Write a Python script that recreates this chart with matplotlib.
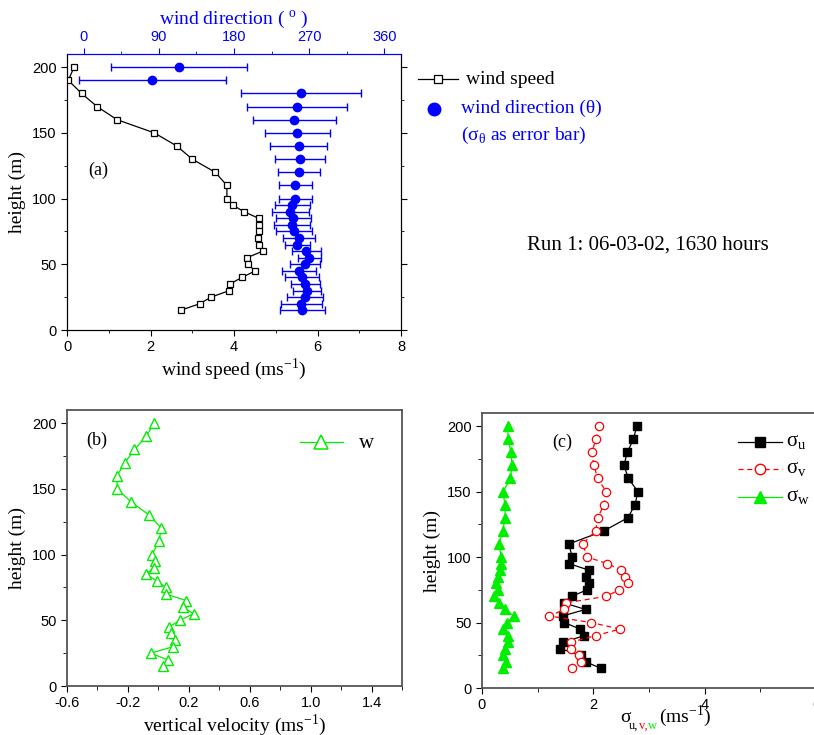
import matplotlib
matplotlib.use("Agg")
import matplotlib.pyplot as plt
from matplotlib.ticker import MultipleLocator
from matplotlib.lines import Line2D

# ---------------- data ----------------
heights = [200, 190, 180, 170, 160, 150, 140, 130, 120, 110, 100, 95, 90, 85,
           80, 75, 70, 65, 60, 55, 50, 45, 40, 35, 30, 25, 20, 15]

wind_speed = [0.17, 0.03, 0.35, 0.72, 1.20, 2.09, 2.63, 3.00, 3.55, 3.83, 3.83, 3.97,
              4.24, 4.59, 4.61, 4.59, 4.57, 4.60, 4.69, 4.31, 4.33, 4.51, 4.19, 3.90,
              3.89, 3.45, 3.18, 2.72]

wind_dir = [114, 82, 260, 255.6, 252.4, 255.6, 257.5, 258.7, 257.5, 253.6, 253.6, 249.6,
            247.6, 250.8, 249.6, 251.6, 257.5, 255.6, 266.7, 270.3, 265.5, 257.5, 261.6,
            265.5, 267.5, 265.5, 260.8, 261.6]

sigma_theta = [81, 88, 72, 60, 49.6, 39, 34, 30, 25, 20, 20, 21, 22.5, 21, 22, 21.5,
               19.4, 15, 17, 14, 18, 20.5, 20.5, 17, 17, 21.5, 24, 27]

w_vel = [-0.03, -0.078, -0.157, -0.219, -0.271, -0.271, -0.179, -0.059, 0.02, 0.003,
         -0.041, -0.021, -0.03, -0.081, -0.010, 0.049, 0.049, 0.182, 0.161, 0.231,
         0.141, 0.071, 0.086, 0.110, 0.099, -0.05, 0.06, 0.031]

sigma_u = [2.78, 2.72, 2.61, 2.55, 2.63, 2.80, 2.75, 2.62, 2.19, 1.56, 1.62, 1.56, 1.92,
           1.87, 1.93, 1.89, 1.61, 1.47, 1.86, 1.45, 1.48, 1.76, 1.84, 1.46, 1.41, 1.78,
           1.86, 2.14]

sigma_v = [2.10, 2.05, 1.97, 2.01, 2.08, 2.23, 2.19, 2.08, 2.04, 1.81, 1.89, 2.25, 2.50,
           2.57, 2.62, 2.47, 2.23, 1.51, 1.48, 1.21, 1.96, 2.48, 2.04, 1.60, 1.59, 1.74,
           1.78, 1.62]

sigma_w = [0.46, 0.47, 0.52, 0.54, 0.51, 0.38, 0.41, 0.42, 0.37, 0.31, 0.34, 0.34, 0.32,
           0.28, 0.25, 0.29, 0.22, 0.31, 0.41, 0.57, 0.45, 0.37, 0.46, 0.47, 0.42, 0.38,
           0.43, 0.37]

SERIF = "Liberation Serif"
SANS = "Liberation Sans"
BLUE = "#0000ff"
GREEN = "#00ee00"
GRAY = "#555555"
W, H = 814.0, 735.0

fig = plt.figure(figsize=(8.14, 7.35), dpi=100)


def px_axes(left, top, right, bottom):
    return fig.add_axes([left / W, 1 - bottom / H, (right - left) / W, (bottom - top) / H])


def fx(x):
    return x / W


def fy(y):
    return 1 - y / H


def style_ticks(ax):
    for lab in ax.get_xticklabels() + ax.get_yticklabels():
        lab.set_fontfamily(SANS)
        lab.set_fontsize(10.5)


# ---------------- panel (a) ----------------
axa = px_axes(67, 54, 401, 330)
axa.plot(wind_speed, heights, color="black", lw=0.9, marker="s", ms=5,
         mfc="white", mec="black", mew=0.9, zorder=3)
axa.set_xlim(0, 8)
axa.set_ylim(0, 210)
axa.xaxis.set_major_locator(MultipleLocator(2))
axa.xaxis.set_minor_locator(MultipleLocator(1))
axa.yaxis.set_major_locator(MultipleLocator(50))
axa.yaxis.set_minor_locator(MultipleLocator(25))
axa.tick_params(axis="both", which="both", direction="out", labelsize=10.5)
axa.tick_params(which="major", length=4)
axa.tick_params(which="minor", length=2.5)
axa.tick_params(axis="y", which="both", right=True)
axa.set_xlabel("wind speed (ms$^{\\mathregular{-1}}$)", family=SERIF, fontsize=14, labelpad=1)
axa.set_ylabel("height (m)", family=SERIF, fontsize=14, labelpad=4)
axa.text(0.063, 0.58, "(a)", transform=axa.transAxes, family=SERIF, fontsize=13,
         va="center")
axa.spines["top"].set_color(BLUE)

axt = axa.twiny()
axt.errorbar(wind_dir, heights, xerr=sigma_theta, fmt="o", color=BLUE, ms=6,
             ecolor=BLUE, elinewidth=1.0, capsize=3, capthick=1.0, zorder=3)
axt.set_xlim(-20, 380)
axt.set_ylim(0, 210)
axt.xaxis.set_major_locator(MultipleLocator(90))
axt.xaxis.set_minor_locator(MultipleLocator(45))
axt.tick_params(axis="x", which="both", direction="out", colors=BLUE, labelsize=10.5)
axt.tick_params(which="major", length=4)
axt.tick_params(which="minor", length=2.5)
axt.spines["top"].set_color(BLUE)
axt.set_xlabel("wind direction ( $^{\\mathregular{o}}$ )", family=SERIF, fontsize=14,
               color=BLUE, labelpad=4)
style_ticks(axa)
for lab in axt.get_xticklabels():
    lab.set_fontfamily(SANS)

# legend for (a), drawn in figure space
fig.add_artist(Line2D([fx(418), fx(458)], [fy(79), fy(79)], color="black", lw=0.9))
fig.add_artist(Line2D([fx(438)], [fy(79)], color="black", marker="s", ms=6,
                      mfc="white", mec="black", mew=0.9, lw=0))
fig.text(fx(466), fy(79), "wind speed", family=SERIF, fontsize=14, va="center")
fig.add_artist(Line2D([fx(434)], [fy(109)], color=BLUE, marker="o", ms=9, lw=0))
fig.text(fx(461), fy(108), "wind direction (\u03b8)", family=SERIF, fontsize=14,
         va="center", color=BLUE)
fig.text(fx(461), fy(135), "(\u03c3$_{\\mathregular{\u03b8}}$ as error bar)",
         family=SERIF, fontsize=14, va="center", color=BLUE)
fig.text(fx(648), fy(245), "Run 1: 06-03-02, 1630 hours", family=SERIF,
         fontsize=15, ha="center", va="center")

# ---------------- panel (b) ----------------
axb = px_axes(67, 410, 402, 686)
axb.plot(w_vel, heights, color=GREEN, lw=0.9, marker="^", ms=7, mfc="white",
         mec=GREEN, mew=1.0)
axb.set_xlim(-0.6, 1.6)
axb.set_ylim(0, 210)
axb.xaxis.set_minor_locator(MultipleLocator(0.2))
axb.yaxis.set_major_locator(MultipleLocator(50))
axb.yaxis.set_minor_locator(MultipleLocator(25))
axb.set_xticks([-0.6, -0.2, 0.2, 0.6, 1.0, 1.4])
axb.set_xticklabels(["-0.6", "-0.2", "0.2", "0.6", "1.0", "1.4"])
axb.tick_params(axis="both", which="both", direction="out", labelsize=10.5)
axb.tick_params(which="major", length=4)
axb.tick_params(which="minor", length=3)
for s in axb.spines.values():
    s.set_color(GRAY)
    s.set_linewidth(1.3)
axb.set_xlabel("vertical velocity (ms$^{\\mathregular{-1}}$)", family=SERIF, fontsize=14,
               labelpad=1)
axb.set_ylabel("height (m)", family=SERIF, fontsize=14, labelpad=4)
axb.text(0.088, 0.89, "(b)", transform=axb.transAxes, family=SERIF, fontsize=13,
         ha="center", va="center")
# legend (b)
fig.add_artist(Line2D([fx(300), fx(343)], [fy(442), fy(442)], color=GREEN, lw=0.9))
fig.add_artist(Line2D([fx(321)], [fy(442)], color=GREEN, marker="^", ms=10, mfc="white",
                      mec=GREEN, mew=1.1, lw=0))
fig.text(fx(359), fy(444), "w", family=SERIF, fontsize=15, va="center")
style_ticks(axb)

# ---------------- panel (c) ----------------
axc = px_axes(482, 413, 816, 688)
axc.plot(sigma_u, heights, color="black", lw=0.9, marker="s", ms=5.5, mfc="black",
         mec="black")
axc.plot(sigma_v, heights, color="red", lw=0.9, ls=(0, (4, 3)), marker="o", ms=6,
         mfc="white", mec="red", mew=0.9)
axc.plot(sigma_w, heights, color=GREEN, lw=0.9, marker="^", ms=6.5, mfc=GREEN,
         mec=GREEN)
axc.set_xlim(0, 6)
axc.set_ylim(0, 210)
axc.xaxis.set_major_locator(MultipleLocator(2))
axc.xaxis.set_minor_locator(MultipleLocator(1))
axc.yaxis.set_major_locator(MultipleLocator(50))
axc.yaxis.set_minor_locator(MultipleLocator(25))
axc.tick_params(axis="both", which="both", direction="out", labelsize=10.5)
axc.tick_params(which="major", length=4)
axc.tick_params(which="minor", length=3)
for s in axc.spines.values():
    s.set_color(GRAY)
    s.set_linewidth(1.3)
axc.set_ylabel("height (m)", family=SERIF, fontsize=14, labelpad=4)
axc.text(0.24, 0.895, "(c)", transform=axc.transAxes, family=SERIF, fontsize=13,
         ha="center", va="center")
# colored x label
xl_y = fy(722)
fig.text(fx(620), xl_y, "\u03c3", family=SERIF, fontsize=14, va="baseline", color="black")
fig.text(fx(629), fy(729), "u,", family=SERIF, fontsize=9, va="baseline", color="black")
fig.text(fx(639), fy(729), "v,", family=SERIF, fontsize=9, va="baseline", color="red")
fig.text(fx(648), fy(729), "w", family=SERIF, fontsize=9, va="baseline", color=GREEN)
fig.text(fx(659), xl_y, "(ms$^{\\mathregular{-1}}$)", family=SERIF, fontsize=14,
         va="baseline", color="black")
# legend (c), drawn manually
leg_rows = [
    (442, "black", "-", "s", "black", 6.5, "u"),
    (469, "red", (0, (4, 3)), "o", "white", 7.5, "v"),
    (497, GREEN, "-", "^", GREEN, 8.5, "w"),
]
for yy, col, ls, mk, mfc, ms, sub in leg_rows:
    fig.add_artist(Line2D([fx(738), fx(782)], [fy(yy), fy(yy)], color=col, lw=0.9, ls=ls))
    fig.add_artist(Line2D([fx(760)], [fy(yy)], color=col, marker=mk, ms=ms, mfc=mfc,
                          mec=col, mew=1.0, lw=0))
    fig.text(fx(786), fy(yy), "\u03c3$_{\\mathregular{%s}}$" % sub, family=SERIF,
             fontsize=15, va="center")
style_ticks(axc)

fig.savefig("out.png", dpi=100)
